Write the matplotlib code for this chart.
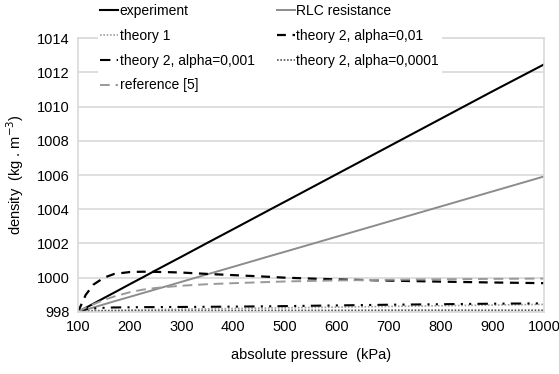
import matplotlib
matplotlib.use("Agg")
import matplotlib.pyplot as plt

plt.rcParams["font.family"] = ["Liberation Sans", "DejaVu Sans"]

# pressure points (kPa)
pressure = [100, 115, 130, 150, 170, 200, 225, 250, 280, 300, 350, 400, 470, 500, 600, 700, 800, 900, 1000]

experiment = [998.0, 998.24, 998.48, 998.81, 999.13, 999.62, 1000.02, 1000.43, 1000.91, 1001.23,
              1002.04, 1002.84, 1003.97, 1004.45, 1006.06, 1007.67, 1009.28, 1010.89, 1012.47]
rlc = [998.0, 998.13, 998.26, 998.44, 998.62, 998.88, 999.10, 999.32, 999.58, 999.76,
       1000.20, 1000.64, 1001.26, 1001.52, 1002.40, 1003.28, 1004.16, 1005.04, 1005.92]
theory1 = [998.0, 998.06, 998.08, 998.09, 998.10, 998.12, 998.13, 998.14, 998.15, 998.16,
           998.18, 998.2, 998.23, 998.24, 998.28, 998.32, 998.36, 998.40, 998.44]
alpha_001 = [998.0, 999.0, 999.6, 1000.0, 1000.22, 1000.33, 1000.35, 1000.34, 1000.32, 1000.3,
             1000.22, 1000.15, 1000.05, 1000.0, 999.9, 999.83, 999.77, 999.72, 999.68]
alpha_0001 = [998.0, 998.15, 998.2, 998.24, 998.26, 998.27, 998.28, 998.28, 998.29, 998.29,
              998.30, 998.31, 998.33, 998.34, 998.38, 998.42, 998.45, 998.48, 998.5]
alpha_00001 = [998.0, 998.04, 998.05, 998.06, 998.06, 998.07, 998.07, 998.07, 998.08, 998.08,
               998.08, 998.08, 998.09, 998.09, 998.09, 998.1, 998.1, 998.1, 998.1]
reference5 = [998.0, 998.25, 998.45, 998.7, 998.9, 999.15, 999.3, 999.4, 999.48, 999.53,
              999.62, 999.68, 999.75, 999.78, 999.84, 999.88, 999.91, 999.93, 999.95]

fig = plt.figure(figsize=(5.59, 3.74), dpi=100)
ax = fig.add_axes([0.1395, 0.166, 0.834, 0.732])

l_exp, = ax.plot(pressure, experiment, color="black", lw=1.5, label="experiment")
l_rlc, = ax.plot(pressure, rlc, color="#8c8c8c", lw=1.4, label="RLC resistance")
l_t1, = ax.plot(pressure, theory1, color="#a0a0a0", lw=1.2, linestyle=(0, (1, 1)), label="theory 1")
l_a1, = ax.plot(pressure, alpha_001, color="black", lw=1.6, linestyle=(0, (4, 3)),
                label="theory 2, alpha=0,01")
l_a2, = ax.plot(pressure, alpha_0001, color="black", lw=1.5, linestyle=(0, (5, 3, 1, 3, 1, 3)),
                label="theory 2, alpha=0,001")
l_a3, = ax.plot(pressure, alpha_00001, color="#555555", lw=1.2, linestyle=(0, (1, 1)),
                label="theory 2, alpha=0,0001")
l_ref, = ax.plot(pressure, reference5, color="#999999", lw=1.4, linestyle=(0, (5, 3)),
                 label="reference [5]")

ax.set_xlim(100, 1000)
ax.set_ylim(998, 1014)
ax.set_xticks(range(100, 1001, 100))
ax.set_yticks(range(998, 1015, 2))
ax.tick_params(length=0, labelsize=10.5, pad=6)
ax.grid(axis="y", color="#d9d9d9", lw=1.2)
ax.set_axisbelow(True)
for sp in ax.spines.values():
    sp.set_color("#d9d9d9")
    sp.set_linewidth(1.2)

ax.set_xlabel("absolute pressure  (kPa)", fontsize=10.5, labelpad=10)
ax.set_ylabel("density  (kg . m$^{-3}$)", fontsize=10.5, labelpad=8)

# legend reads row by row in the reference, so order handles column-wise
handles = [l_exp, l_t1, l_a2, l_ref, l_rlc, l_a1, l_a3]
leg = ax.legend(handles=handles, labels=[h.get_label() for h in handles], ncol=2,
                loc="upper left", bbox_to_anchor=(0.042, 1.135), frameon=True,
                fontsize=10, handlelength=1.3, handletextpad=0.1, labelspacing=0.78,
                columnspacing=1.6, borderpad=0.2, borderaxespad=0)
leg.get_frame().set_edgecolor("none")
leg.get_frame().set_facecolor("white")
leg.get_frame().set_alpha(1)

fig.savefig("out.png", dpi=100)
